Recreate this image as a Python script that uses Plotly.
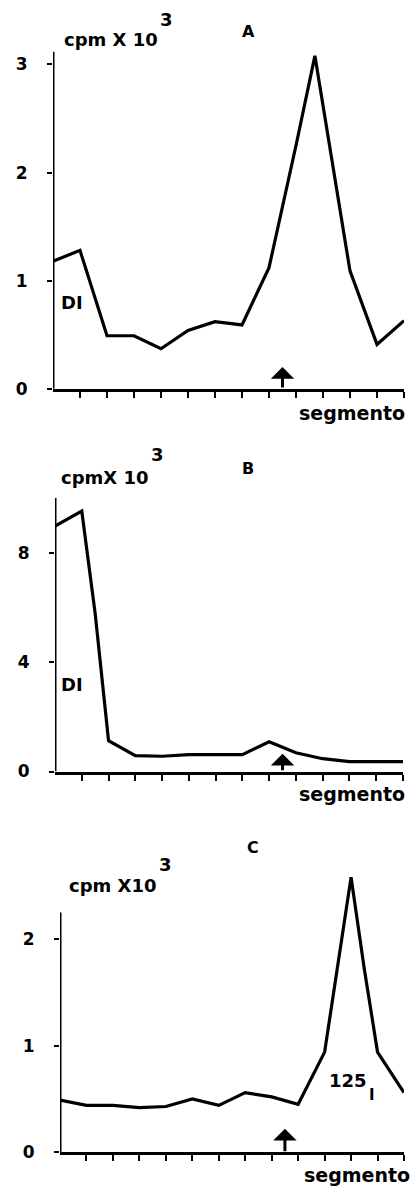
import plotly.graph_objects as go

# ---- data (cpm x 10^3 per gel segment) ----
seg_a = [0, 1, 2, 3, 4, 5, 6, 7, 8, 9, 9.7, 11, 12, 13]
cpm_a = [1.18, 1.28, 0.49, 0.49, 0.37, 0.54, 0.62, 0.59, 1.12, 2.25, 3.08, 1.09, 0.41, 0.63]

seg_b = [0, 1, 1.5, 2, 3, 4, 5, 6, 7, 8, 9, 10, 11, 12, 13]
cpm_b = [9.0, 9.55, 5.8, 1.13, 0.58, 0.56, 0.62, 0.62, 0.62, 1.09, 0.69, 0.47, 0.36, 0.36, 0.36]

seg_c = [0, 1, 2, 3, 4, 5, 6, 7, 8, 9, 10, 11, 11.5, 12, 13]
cpm_c = [0.49, 0.44, 0.44, 0.42, 0.43, 0.50, 0.44, 0.56, 0.52, 0.45, 0.94, 2.58, 1.72, 0.94, 0.56]

yticks_a = [0, 1, 2, 3]
yticks_b = [0, 4, 8]
yticks_c = [0, 1, 2]
seg_ticks = list(range(1, 14))

# arrow marker position (segment, tip height)
arrow_a = (8.5, 0.20)
arrow_b = (8.5, 0.65)
arrow_c = (8.5, 0.22)

W, H = 418, 1200
FONT = "DejaVu Sans"


def px(x):
    return x / W


def py(y):
    return 1 - y / H


fig = go.Figure()

panels = [
    # suffix, x data, y data, x pixel span, y-zero pixel, px per unit,
    # plotted y max, drawn axis-line top, ticks
    ("", seg_a, cpm_a, (53, 404), 392, 109.0, 3.12, 3.12, yticks_a),
    ("2", seg_b, cpm_b, (55, 403), 778, 27.5, 10.04, 10.04, yticks_b),
    ("3", seg_c, cpm_c, (60, 404), 1162, 107.5, 2.75, 2.25, yticks_c),
]

for suf, xs, ys, (x0, x1), y0px, unit, ymax, yline, yt_vals in panels:
    ytop_px = y0px - ymax * unit
    fig.add_trace(go.Scatter(
        x=xs, y=ys, mode="lines",
        line=dict(color="black", width=3.2),
        xaxis="x" + suf, yaxis="y" + suf,
        showlegend=False, hoverinfo="skip",
    ))
    fig.layout["xaxis" + suf] = dict(
        domain=[px(x0), px(x1)], range=[0, 13], anchor="y" + suf,
        showline=True, linecolor="black", linewidth=3,
        tickvals=seg_ticks, ticks="outside", ticklen=6, tickwidth=2,
        tickcolor="black", showticklabels=False, showgrid=False,
        zeroline=False, fixedrange=True,
    )
    fig.layout["yaxis" + suf] = dict(
        domain=[py(y0px), py(ytop_px)], range=[0, ymax], anchor="x" + suf,
        showline=False,
        tickvals=yt_vals, ticktext=[str(v) for v in yt_vals],
        ticks="outside", ticklen=5, tickwidth=2, tickcolor="black",
        tickfont=dict(family=FONT, size=17, color="black", weight="bold"),
        ticklabelstandoff=16,
        showgrid=False, zeroline=False, fixedrange=True,
    )
    # vertical axis line, drawn up to its own height
    fig.add_shape(
        type="line", xref="x" + suf, yref="y" + suf,
        x0=0, x1=0, y0=0, y1=yline,
        line=dict(color="black", width=3),
    )

# arrows marking the reference position on each gel
for suf, (ax_seg, tip), tail_px in [("", arrow_a, 22), ("2", arrow_b, 18), ("3", arrow_c, 24)]:
    fig.add_annotation(
        x=ax_seg, y=tip, xref="x" + suf, yref="y" + suf,
        ax=0, ay=tail_px, text="", showarrow=True,
        arrowhead=1, arrowsize=1.3, arrowwidth=3, arrowcolor="black",
    )


def label(text, x, y, size=18):
    fig.add_annotation(
        x=px(x), y=py(y), xref="paper", yref="paper",
        text=text, showarrow=False, xanchor="center", yanchor="middle",
        font=dict(family=FONT, size=size, color="black", weight="bold"),
    )


# panel A
label("cpm X 10", 111, 40)
label("3", 166, 20)
label("A", 248, 32, 16)
label("DI", 72, 305)
label("segmento", 352, 416, 19)

# panel B
label("cpmX 10", 105, 482)
label("3", 157, 458)
label("B", 248, 472, 16)
label("DI", 72, 690)
label("segmento", 352, 801, 19)

# panel C
label("cpm X10", 113, 893)
label("3", 165, 872)
label("C", 253, 855, 16)
label("125", 348, 1090)
label("I", 372, 1104, 15)
label("segmento", 357, 1185, 19)

fig.update_layout(
    width=W, height=H,
    margin=dict(l=0, r=0, t=0, b=0),
    paper_bgcolor="white", plot_bgcolor="white",
    showlegend=False,
)

fig.write_html("out.html")
